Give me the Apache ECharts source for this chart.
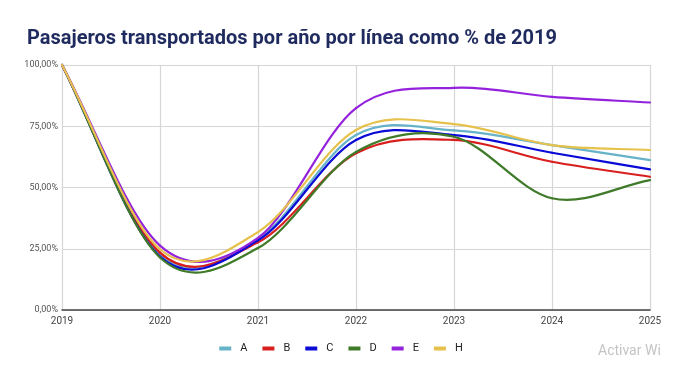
<!DOCTYPE html>
<html><head><meta charset="utf-8">
<script src="https://cdn.jsdelivr.net/npm/echarts@6/dist/echarts.min.js"></script>
<style>html,body{margin:0;padding:0;background:#fff}#c{width:682px;height:365px}</style>
</head><body><div id="c"></div>
<script>
const years = ['2019','2020','2021','2022','2023','2024','2025'];
const A = [100, 22.8, 29.0, 71.4, 73.3, 67.3, 61.2];
const B = [100, 23.4, 27.6, 64.0, 69.4, 60.5, 54.4];
const C = [100, 21.8, 28.4, 69.4, 71.4, 64.2, 57.4];
const D = [100, 21.4, 25.3, 64.5, 70.7, 45.6, 53.0];
const E = [100, 26.3, 29.4, 82.4, 90.7, 87.0, 84.7];
const H = [100, 24.8, 31.8, 73.5, 75.9, 67.3, 65.3];
const yTicks = [0, 25, 50, 75, 100];
const seriesNames = ['A','B','C','D','E','H'];
const seriesData = [A,B,C,D,E,H];
const colors = ['#66b2c9','#d91e1e','#0a0ad6','#3f7a29','#9422dc','#e6c14c'];

// Catmull-Rom curve through the data points, drawn as bezier segments in pixel space
function makeRender(vals, color){
  return function(params, api){
    if (params.dataIndex !== 0) return null;
    const P = vals.map((v,j)=>api.coord([j, v]));
    const n = P.length;
    const get = j => {
      if (j < 0) return [2*P[0][0]-P[1][0], 2*P[0][1]-P[1][1]];
      if (j >= n) return [2*P[n-1][0]-P[n-2][0], 2*P[n-1][1]-P[n-2][1]];
      return P[j];
    };
    const children = [];
    for (let i=0;i<n-1;i++){
      const p0=get(i-1), p1=get(i), p2=get(i+1), p3=get(i+2);
      children.push({type:'bezierCurve', shape:{
        x1:p1[0], y1:p1[1],
        cpx1:p1[0]+(p2[0]-p0[0])/6, cpy1:p1[1]+(p2[1]-p0[1])/6,
        cpx2:p2[0]-(p3[0]-p1[0])/6, cpy2:p2[1]-(p3[1]-p1[1])/6,
        x2:p2[0], y2:p2[1]},
        style:{stroke:color, fill:null, lineWidth:2.2, lineCap:'round'}});
    }
    return {type:'group', children};
  };
}

const chart = echarts.init(document.getElementById('c'));
chart.setOption({
  animation:false,
  color: colors,
  title:{text:'Pasajeros transportados por año por línea como % de 2019', left:22, top:24,
    textStyle:{fontFamily:'Roboto', fontWeight:'bold', fontSize:20, color:'#1f2b5e'}},
  legend:{bottom:6, left:'center', icon:'rect', itemWidth:12, itemHeight:4, itemGap:15,
    data:seriesNames,
    textStyle:{fontFamily:'Roboto', fontSize:11, color:'#222', padding:[0,0,0,4]}},
  graphic:[{type:'text', left:598, top:344, style:{text:'Activar Wi', fontFamily:'Roboto', fontSize:14, fill:'#c4c4c4'}}],
  grid:{left:62, right:32, top:65, bottom:55},
  xAxis:{type:'category', data:years, boundaryGap:false,
    axisLine:{lineStyle:{color:'#444', width:1.5}}, axisTick:{show:false},
    axisLabel:{fontFamily:'Roboto', fontSize:10, color:'#444', margin:6},
    splitLine:{show:true, lineStyle:{color:'#d6d6d6', width:1.2}}},
  yAxis:{type:'value', min:0, max:100, interval:25,
    axisLine:{show:false}, axisTick:{show:false},
    axisLabel:{fontFamily:'Roboto', fontSize:9, color:'#555', margin:4,
      formatter:v=>v.toFixed(2).replace('.',',')+'%'},
    splitLine:{lineStyle:{color:'#d6d6d6', width:1.2}}},
  series: seriesNames.map((n,i)=>({name:n, type:'custom', data:seriesData[i].map((v,j)=>[j,v]),
    encode:{x:0, y:1}, clip:false, z:2+i,
    itemStyle:{color:colors[i]},
    renderItem: makeRender(seriesData[i], colors[i])}))
});
</script></body></html>
